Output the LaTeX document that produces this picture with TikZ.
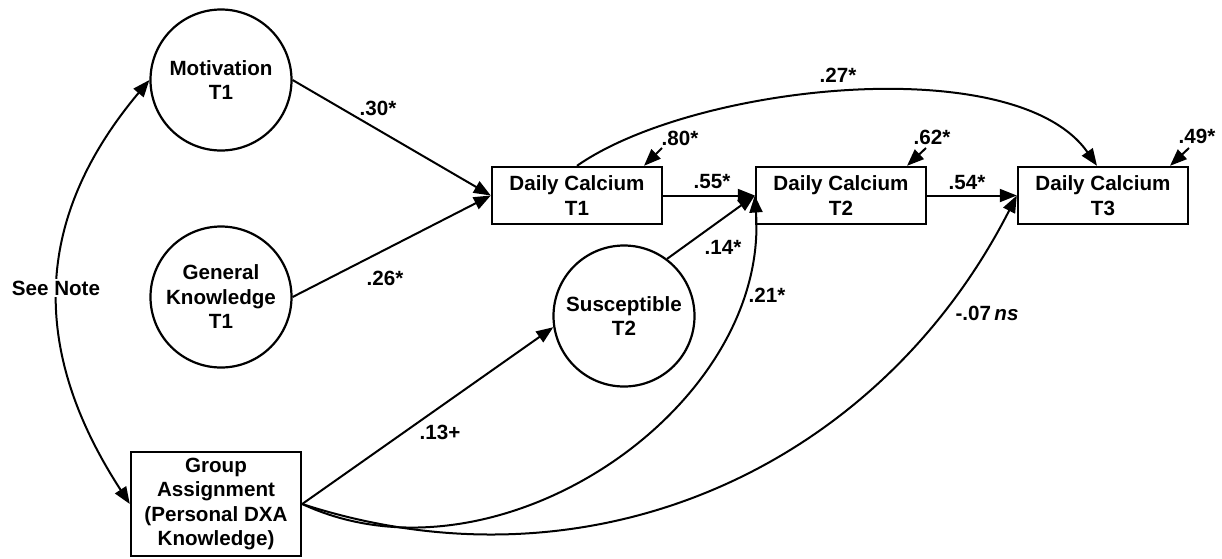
\documentclass[tikz,border=0pt]{standalone}
\usepackage{fontspec}
\setmainfont{Liberation Sans}
\usetikzlibrary{arrows.meta}
\begin{document}
\begin{tikzpicture}[x=1pt,y=1pt,
  every node/.style={font=\fontsize{20.6}{24.5}\selectfont\bfseries},
  latent/.style={draw, circle, line width=2.2pt, minimum size=141pt, inner sep=0pt, align=center},
  obs/.style={draw, rectangle, line width=2.4pt, minimum width=170pt, minimum height=57pt, inner sep=0pt, align=center},
  pathar/.style={line width=2pt, -{Triangle[length=17pt,width=13pt]}},
  dblar/.style={line width=2pt, {Triangle[length=17pt,width=13pt]}-{Triangle[length=17pt,width=13pt]}},
  lbl/.style={inner sep=1pt},
]
\useasboundingbox (0,0) rectangle (1222,-558);

% nodes
\node[latent] (mot) at (221,-80) {Motivation\\T1};
\node[latent] (gk) at (221,-297) {General\\Knowledge\\T1};
\node[latent] (sus) at (624,-316) {Susceptible\\T2};
\node[obs] (dc1) at (577,-195.5) {Daily Calcium\\T1};
\node[obs] (dc2) at (841,-195.5) {Daily Calcium\\T2};
\node[obs] (dc3) at (1103,-195.5) {Daily Calcium\\T3};
\node[obs, minimum height=104pt] (ga) at (216,-504) {Group\\Assignment\\(Personal DXA\\Knowledge)};

% paths
\draw[pathar] (mot.east) -- (dc1.west);
\draw[pathar] (gk.east) -- (dc1.west);
\draw[pathar] (dc1.east) -- (dc2.west);
\draw[pathar] (dc2.east) -- (dc3.west);
\draw[pathar] (sus.53) -- (dc2.west);
\draw[pathar] (ga.east) -- (sus.189);
\draw[pathar] (ga.east) to[out=-25, in=-86] (dc2.west);
\draw[pathar] (ga.east) to[out=-18, in=-117] (dc3.west);
\draw[pathar] (dc1.north) to[out=35, in=125, looseness=0.7] ([xshift=-6pt]dc3.north);
\draw[dblar] (mot.west) to[out=230, in=123, looseness=1.1] (ga.west);

% residuals
\coordinate (r1s) at (662,-148);
\coordinate (r2s) at (926,-148);
\coordinate (r3s) at (1189,-148);
\draw[pathar] (r1s) -- ([xshift=67pt]dc1.north);
\draw[pathar] (r2s) -- ([xshift=66pt]dc2.north);
\draw[pathar] (r3s) -- ([xshift=67pt]dc3.north);
\node[lbl] (l80) at (680,-138) {.80*};
\node[lbl] (l62) at (932,-137) {.62*};
\node[lbl] (l49) at (1197,-136) {.49*};

% labels
\node[lbl] (l30) at (378,-108) {.30*};
\node[lbl] (l26) at (385,-278) {.26*};
\node[lbl] (l55) at (712,-182) {.55*};
\node[lbl] (l14) at (723,-247) {.14*};
\node[lbl] (l21) at (767,-295) {.21*};
\node[lbl] (l54) at (967,-183) {.54*};
\node[lbl] (l07) at (987,-313) {-.07\,\textit{ns}};
\node[lbl] (l13) at (440,-432) {.13+};
\node[lbl] (l27) at (838,-75) {.27*};
\node[fill=white, inner sep=2pt] (note) at (56,-288) {See Note};
\end{tikzpicture}
\end{document}
